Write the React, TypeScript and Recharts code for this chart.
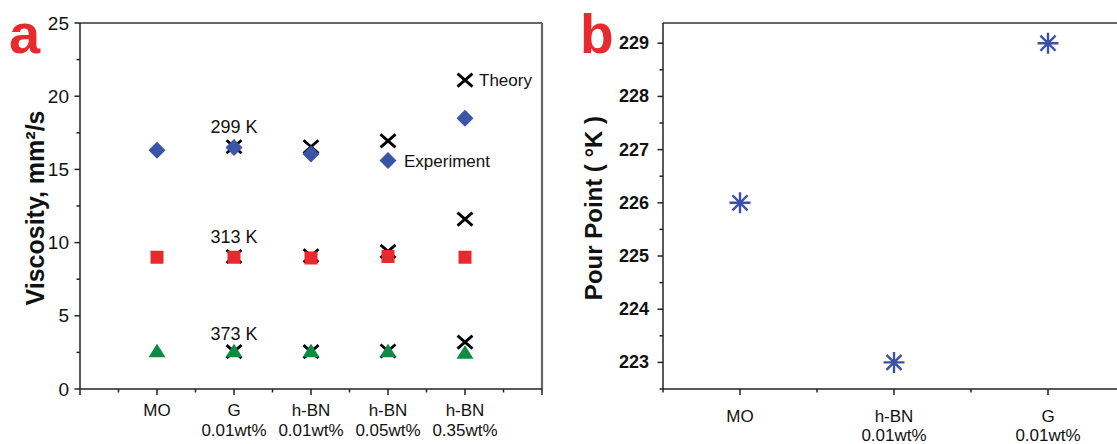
import {
  Label,
  ReferenceDot,
  ReferenceLine,
  Scatter,
  ScatterChart,
  XAxis,
  YAxis,
} from "recharts";

const FONT = "'Liberation Sans', Arial, Helvetica, sans-serif";
const BLUE = "#3a55a6";
const RED = "#e8292e";
const GREEN = "#0f8a42";
const STAR = "#3c50a8";
const AXIS = "#222";

// panel a: viscosity
const viscCatTop = ["MO", "G", "h-BN", "h-BN", "h-BN"];
const viscCatBottom = ["", "0.01wt%", "0.01wt%", "0.05wt%", "0.35wt%"];
const exp299 = [16.3, 16.5, 16.05, 15.6, 18.5];
const theory299 = [null, 16.55, 16.55, 16.95, 21.1];
const exp313 = [9.0, 9.0, 8.95, 9.05, 9.0];
const theory313 = [null, 9.05, 9.1, 9.4, 11.6];
const exp373 = [2.55, 2.55, 2.55, 2.55, 2.45];
const theory373 = [null, 2.55, 2.55, 2.6, 3.2];
const viscXTicks = [0, 0.5, 1, 1.5, 2, 2.5, 3, 3.5, 4, 4.5, 5, 5.5, 6];
const viscYTicks = [0, 2.5, 5, 7.5, 10, 12.5, 15, 17.5, 20, 22.5, 25];

// panel b: pour point
const pourCatTop = ["MO", "h-BN", "G"];
const pourCatBottom = ["", "0.01wt%", "0.01wt%"];
const pourPoint = [226, 223, 229];
const pourXTicks = [0.5, 1, 1.5, 2, 2.5, 3, 3.5];
const pourYTicks = [
  222.5, 223, 223.5, 224, 224.5, 225, 225.5, 226, 226.5, 227, 227.5, 228,
  228.5, 229,
];
const pourYDomain = [222.5, 229.38];

function toPoints(values: (number | null)[]) {
  return values.flatMap((v, i) => (v == null ? [] : [{ x: i + 1, y: v }]));
}

const Diamond = (p: any) => (
  <polygon
    points={`${p.cx},${p.cy - 8.5} ${p.cx + 8.5},${p.cy} ${p.cx},${p.cy + 8.5} ${p.cx - 8.5},${p.cy}`}
    fill={BLUE}
  />
);
const Square = (p: any) => (
  <rect x={p.cx - 6.5} y={p.cy - 6.5} width={13} height={13} fill={RED} />
);
const Triangle = (p: any) => (
  <polygon
    points={`${p.cx},${p.cy - 8} ${p.cx + 8.5},${p.cy + 5.5} ${p.cx - 8.5},${p.cy + 5.5}`}
    fill={GREEN}
  />
);
const Cross = (p: any) => (
  <path
    d={`M${p.cx - 7.5},${p.cy - 6.5}L${p.cx + 7.5},${p.cy + 6.5}M${p.cx - 7.5},${p.cy + 6.5}L${p.cx + 7.5},${p.cy - 6.5}`}
    stroke="#000"
    strokeWidth={2.8}
  />
);
const Asterisk = (p: any) => {
  const r = 10.5;
  const d = r * 0.72;
  return (
    <path
      d={`M${p.cx},${p.cy - r}V${p.cy + r}M${p.cx - r},${p.cy}H${p.cx + r}M${p.cx - d},${p.cy - d}L${p.cx + d},${p.cy + d}M${p.cx - d},${p.cy + d}L${p.cx + d},${p.cy - d}`}
      stroke={STAR}
      strokeWidth={2.4}
    />
  );
};

function makeXTick(top: string[], bottom: string[], l1: number, l2: number) {
  return (props: any) => {
    const { x, y, payload } = props;
    const v = payload.value;
    const major = Number.isInteger(v);
    const idx = v - 1;
    const hasLabel = major && idx >= 0 && idx < top.length;
    return (
      <g>
        <line x1={x} x2={x} y1={y} y2={y + (major ? 6 : 3.5)} stroke={AXIS} strokeWidth={1.5} />
        {hasLabel && (
          <text x={x} y={y + l1} textAnchor="middle" fontSize={17} fontFamily={FONT} fill="#111">
            {top[idx]}
          </text>
        )}
        {hasLabel && bottom[idx] && (
          <text x={x} y={y + l2} textAnchor="middle" fontSize={17} fontFamily={FONT} fill="#111">
            {bottom[idx]}
          </text>
        )}
      </g>
    );
  };
}

function makeYTick(step: number, gap: number, size: number, bold: boolean) {
  return (props: any) => {
    const { x, y, payload } = props;
    const v = payload.value;
    const major = Math.abs(v / step - Math.round(v / step)) < 1e-6;
    return (
      <g>
        <line x1={x} x2={x - (major ? 5.5 : 3.5)} y1={y} y2={y} stroke={AXIS} strokeWidth={1.5} />
        {major && (
          <text
            x={x - gap}
            y={y}
            textAnchor="end"
            dominantBaseline="central"
            fontSize={size}
            fontWeight={bold ? "bold" : "normal"}
            fontFamily={FONT}
            fill="#111"
          >
            {v}
          </text>
        )}
      </g>
    );
  };
}

function axisTitle(text: string, dx: number, size: number) {
  return (props: any) => {
    const vb = props.viewBox || { x: 0, y: 0, width: 0, height: 0 };
    const cx = vb.x + dx;
    const cy = vb.y + vb.height / 2 + 2;
    return (
      <text
        x={cx}
        y={cy}
        transform={`rotate(-90 ${cx} ${cy})`}
        textAnchor="middle"
        dominantBaseline="central"
        fontSize={size}
        fontWeight="bold"
        fontFamily={FONT}
        fill="#111"
      >
        {text}
      </text>
    );
  };
}

const labelStyle = { fontSize: 17, fontFamily: FONT, fill: "#111" };
const tempStyle = { fontSize: 18, fontFamily: FONT, fill: "#111" };

function ViscosityChart() {
  return (
    <ScatterChart width={560} height={444} margin={{ top: 23, right: 18, bottom: 0, left: 0 }}>
      <XAxis
        type="number"
        dataKey="x"
        domain={[0, 6]}
        ticks={viscXTicks}
        interval={0}
        height={55}
        tickSize={0}
        tickMargin={0}
        tickLine={false}
        axisLine={{ stroke: AXIS, strokeWidth: 1.5 }}
        tick={makeXTick(viscCatTop, viscCatBottom, 27, 47)}
      />
      <YAxis
        type="number"
        dataKey="y"
        domain={[0, 25]}
        ticks={viscYTicks}
        interval={0}
        width={80}
        tickSize={0}
        tickMargin={0}
        tickLine={false}
        axisLine={{ stroke: AXIS, strokeWidth: 1.5 }}
        tick={makeYTick(5, 11, 19, false)}
      >
        <Label content={axisTitle("Viscosity, mm²/s", 35, 25)} />
      </YAxis>
      <ReferenceLine y={25} stroke="#333" strokeWidth={1.5} />
      <ReferenceLine x={6} stroke="#666" strokeWidth={2.2} />
      <Scatter data={toPoints(theory299)} shape={Cross} isAnimationActive={false} />
      <Scatter data={toPoints(exp299)} shape={Diamond} isAnimationActive={false} />
      <Scatter data={toPoints(theory313)} shape={Cross} isAnimationActive={false} />
      <Scatter data={toPoints(exp313)} shape={Square} isAnimationActive={false} />
      <Scatter data={toPoints(theory373)} shape={Cross} isAnimationActive={false} />
      <Scatter data={toPoints(exp373)} shape={Triangle} isAnimationActive={false} />
      <ReferenceDot x={2} y={exp299[1]} r={0} label={{ value: "299 K", position: "top", offset: 14, ...tempStyle }} />
      <ReferenceDot x={2} y={exp313[1]} r={0} label={{ value: "313 K", position: "top", offset: 14, ...tempStyle }} />
      <ReferenceDot x={2} y={exp373[1]} r={0} label={{ value: "373 K", position: "top", offset: 12, ...tempStyle }} />
      <ReferenceDot x={5} y={theory299[4] as number} r={0} label={{ value: "Theory", position: "right", offset: 14, ...labelStyle }} />
      <ReferenceDot x={4} y={exp299[3]} r={0} label={{ value: "Experiment", position: "right", offset: 16, ...labelStyle }} />
    </ScatterChart>
  );
}

function PourPointChart() {
  return (
    <ScatterChart width={600} height={444} margin={{ top: 23, right: 35, bottom: 0, left: 0 }}>
      <XAxis
        type="number"
        dataKey="x"
        domain={[0.5, 3.5]}
        ticks={pourXTicks}
        interval={0}
        height={55}
        tickSize={0}
        tickMargin={0}
        tickLine={false}
        axisLine={{ stroke: AXIS, strokeWidth: 1.5 }}
        tick={makeXTick(pourCatTop, pourCatBottom, 33, 52)}
      />
      <YAxis
        type="number"
        dataKey="y"
        domain={pourYDomain}
        ticks={pourYTicks}
        interval={0}
        width={103}
        allowDataOverflow
        tickSize={0}
        tickMargin={0}
        tickLine={false}
        axisLine={{ stroke: AXIS, strokeWidth: 1.5 }}
        tick={makeYTick(1, 14, 18, true)}
      >
        <Label content={axisTitle("Pour Point ( °K )", 33, 24)} />
      </YAxis>
      <ReferenceLine y={pourYDomain[1]} stroke="#333" strokeWidth={1.5} />
      <Scatter data={toPoints(pourPoint)} shape={Asterisk} isAnimationActive={false} />
    </ScatterChart>
  );
}

export default function App() {
  return (
    <div
      style={{
        position: "absolute",
        left: 0,
        top: 0,
        width: 1117,
        height: 444,
        overflow: "hidden",
        background: "#fff",
      }}
    >
      <div style={{ position: "absolute", left: 0, top: 0 }}>
        <ViscosityChart />
      </div>
      <div style={{ position: "absolute", left: 560, top: 0 }}>
        <PourPointChart />
      </div>
      <svg
        width={1117}
        height={444}
        style={{ position: "absolute", left: 0, top: 0, pointerEvents: "none" }}
      >
        <text x={9} y={53} fontSize={56} fontWeight="bold" fontFamily={FONT} fill={RED}>
          a
        </text>
        <text x={580} y={53} fontSize={55} fontWeight="bold" fontFamily={FONT} fill={RED}>
          b
        </text>
      </svg>
    </div>
  );
}
